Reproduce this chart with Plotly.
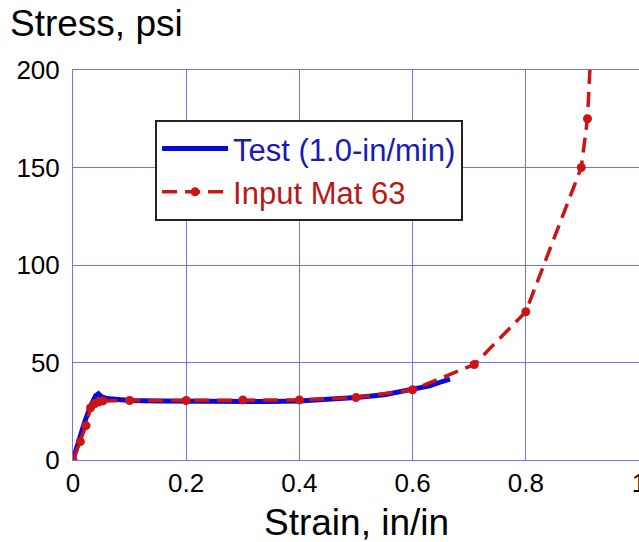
import plotly.graph_objects as go

# Test (1.0-in/min)
test_strain = [0, 0.005, 0.01, 0.02, 0.03, 0.036, 0.04, 0.045, 0.05, 0.06, 0.08, 0.1, 0.15, 0.2,
               0.3, 0.35, 0.4, 0.45, 0.5, 0.55, 0.6, 0.63, 0.65, 0.666]
test_stress = [0, 5, 10, 19, 27, 31, 33, 34, 32.5, 31.5, 31, 30.5, 30.2, 30,
               30, 30, 30.3, 31, 32, 33.5, 36, 38, 40, 41.5]

# Input Mat 63
mat_strain = [0, 0.013, 0.023, 0.031, 0.039, 0.046, 0.053, 0.1, 0.2, 0.3, 0.4, 0.5, 0.6,
              0.709, 0.8, 0.898, 0.909, 0.92]
mat_stress = [0, 9.4, 17.6, 26.8, 29, 29.9, 30.3, 30.5, 30.5, 30.8, 30.8, 32, 36,
              49, 76, 150, 175, 240]

x_ticks = [0, 0.2, 0.4, 0.6, 0.8, 1]
x_tick_labels = ["0", "0.2", "0.4", "0.6", "0.8", "1"]
y_ticks = [0, 50, 100, 150, 200]

FONT = "Arial, Liberation Sans, sans-serif"
GRID = "#7474e4"

fig = go.Figure()
fig.add_trace(go.Scatter(
    x=test_strain, y=test_stress, mode="lines",
    name="<span style='color:#1a1ab4'>Test (1.0-in/min)</span>",
    line=dict(color="#0a0ad8", width=5),
))
fig.add_trace(go.Scatter(
    x=mat_strain, y=mat_stress, mode="lines+markers",
    name="<span style='color:#b81818'>Input Mat 63</span>",
    line=dict(color="#cc1414", width=3.5, dash="15px,8px"),
    marker=dict(color="#cc1414", size=9),
))

fig.update_layout(
    width=639, height=542,
    margin=dict(l=73, r=0, t=70, b=82, autoexpand=False),
    paper_bgcolor="white", plot_bgcolor="white",
    font=dict(family=FONT, size=26, color="black"),
    showlegend=True,
    legend=dict(
        x=0.145, y=0.872, xanchor="left", yanchor="top",
        bgcolor="white", bordercolor="#222222", borderwidth=2,
        font=dict(size=31, family=FONT),
        itemwidth=66,
        tracegroupgap=0,
    ),
    xaxis=dict(
        range=[0, 1], tickvals=x_ticks, ticktext=x_tick_labels,
        showgrid=True, gridcolor=GRID, gridwidth=1,
        showline=True, linecolor=GRID, linewidth=1, mirror=True,
        zeroline=False, ticks="", ticklabelstandoff=0,
        ticklabeloverflow="allow", automargin=False,
        tickfont=dict(size=26, family=FONT),
    ),
    yaxis=dict(
        range=[0, 200], tickvals=y_ticks,
        showgrid=True, gridcolor=GRID, gridwidth=1,
        showline=True, linecolor=GRID, linewidth=1, mirror=True,
        zeroline=False, ticks="", ticklabelstandoff=7, automargin=False,
        tickfont=dict(size=26, family=FONT),
    ),
    annotations=[
        dict(text="Stress, psi", xref="paper", yref="paper", x=-0.115, y=1.118,
             xanchor="left", yanchor="middle", showarrow=False,
             font=dict(size=37, family=FONT, color="black")),
        dict(text="Strain, in/in", xref="paper", yref="paper", x=0.5, y=-0.16,
             xanchor="center", yanchor="middle", showarrow=False,
             font=dict(size=37, family=FONT, color="black")),
    ],
)

fig.write_html(
    "out.html",
    config={"displayModeBar": False},
    post_script="document.body.style.margin='0';document.body.style.overflow='hidden';",
)
